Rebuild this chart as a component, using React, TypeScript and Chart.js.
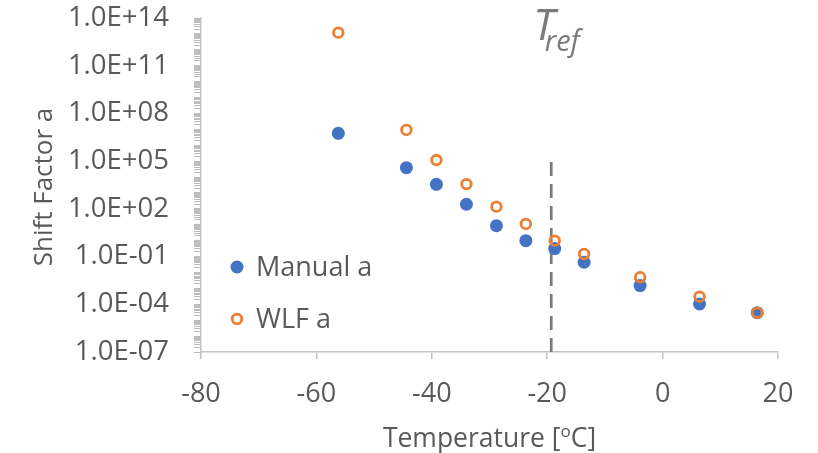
import React, { useEffect, useRef } from "react";
import { Chart, registerables } from "chart.js";

Chart.register(...registerables);

// Measured shift factors against temperature
const temperatures = [-56.2, -44.4, -39.2, -34.0, -28.8, -23.7, -18.7, -13.6, -3.9, 6.4, 16.4];
const manualA = [5.6e6, 3.9e4, 3.5e3, 1.95e2, 8.7, 1.0, 0.32, 0.044, 1.5e-3, 1.05e-4, 2.95e-5];
const wlfA = [1.2e13, 9.1e6, 1.17e5, 3.6e3, 1.38e2, 11.2, 1.0, 0.145, 5.0e-3, 3.0e-4, 2.95e-5];

// Reference temperature marker
const tRef = -19.3;
const tRefSpan = [1e-7, 1e5];

// Axis settings
const xTickStep = 20;
const xRange = [-80, 20];
const yRange = [1e-7, 1e14];
const yLabelExponents = [14, 11, 8, 5, 2, -1, -4, -7];

const BLUE = "#4472C4";
const ORANGE = "#ED7D31";
const TEXT = "#595959";
const AXIS = "#c4c4c4";
const FONT = "'Open Sans', 'Noto Sans', sans-serif";

function formatSci(e: number): string {
  const sign = e < 0 ? "-" : "+";
  return `1.0E${sign}${String(Math.abs(e)).padStart(2, "0")}`;
}

function logTicks(): { value: number }[] {
  const out: { value: number }[] = [];
  for (let e = -7; e < 14; e++) {
    for (let m = 1; m <= 9; m++) out.push({ value: Number(`${m}e${e}`) });
  }
  out.push({ value: 1e14 });
  return out;
}

const extras = {
  id: "extras",
  afterDraw(chart: any) {
    const { ctx, chartArea, scales } = chart;
    const xs = scales.x;
    ctx.save();
    ctx.fillStyle = TEXT;

    // y axis title
    ctx.save();
    ctx.translate(52, (chartArea.top + chartArea.bottom) / 2 + 2);
    ctx.rotate(-Math.PI / 2);
    ctx.font = `26px ${FONT}`;
    ctx.textAlign = "center";
    ctx.textBaseline = "alphabetic";
    ctx.fillText("Shift Factor a", 0, 0);
    ctx.restore();

    // x axis title with superscript degree
    ctx.font = `26.5px ${FONT}`;
    ctx.textBaseline = "alphabetic";
    ctx.textAlign = "left";
    const p1 = "Temperature [";
    const p2 = "o";
    const p3 = "C]";
    const w1 = ctx.measureText(p1).width;
    ctx.font = `17px ${FONT}`;
    const w2 = ctx.measureText(p2).width;
    ctx.font = `26.5px ${FONT}`;
    const w3 = ctx.measureText(p3).width;
    const total = w1 + w2 + w3;
    const cx = (chartArea.left + chartArea.right) / 2;
    let tx = cx - total / 2;
    const base = 447;
    ctx.fillText(p1, tx, base);
    tx += w1;
    ctx.font = `17px ${FONT}`;
    ctx.fillText(p2, tx, base - 10);
    tx += w2;
    ctx.font = `26.5px ${FONT}`;
    ctx.fillText(p3, tx, base);

    // legend inside the plot
    const lx = chartArea.left + 36;
    ctx.font = `27px ${FONT}`;
    ctx.fillStyle = BLUE;
    ctx.beginPath();
    ctx.arc(lx, 267, 6.5, 0, Math.PI * 2);
    ctx.fill();
    ctx.strokeStyle = ORANGE;
    ctx.lineWidth = 2.8;
    ctx.beginPath();
    ctx.arc(lx, 319, 4.8, 0, Math.PI * 2);
    ctx.stroke();
    ctx.fillStyle = TEXT;
    ctx.fillText("Manual a", lx + 19, 276);
    ctx.fillText("WLF a", lx + 19, 328);

    // T_ref label
    const rx = xs.getPixelForValue(tRef);
    ctx.fillStyle = "#7a7a7a";
    ctx.font = `italic 43px ${FONT}`;
    ctx.fillText("T", rx - 18, 40);
    const tw = ctx.measureText("T").width;
    ctx.font = `italic 29px ${FONT}`;
    ctx.fillText("ref", rx - 18 + tw - 10, 51);

    ctx.restore();
  },
};

export default function App() {
  const ref = useRef<HTMLCanvasElement | null>(null);

  useEffect(() => {
    if (!ref.current) return;
    const chart = new Chart(ref.current, {
      type: "scatter",
      data: {
        datasets: [
          {
            label: "WLF a",
            data: temperatures.map((t, i) => ({ x: t, y: wlfA[i] })),
            pointRadius: 4.8,
            pointBorderWidth: 2.8,
            pointBorderColor: ORANGE,
            pointBackgroundColor: "rgba(0,0,0,0)",
            order: 0,
          },
          {
            label: "Manual a",
            data: temperatures.map((t, i) => ({ x: t, y: manualA[i] })),
            pointRadius: 6.5,
            pointBorderWidth: 0,
            pointBackgroundColor: BLUE,
            pointBorderColor: BLUE,
            order: 1,
          },
          {
            type: "line",
            label: "Tref",
            data: tRefSpan.map((v) => ({ x: tRef, y: v })),
            borderColor: "#7a7a7a",
            borderWidth: 2.7,
            borderDash: [14, 8],
            pointRadius: 0,
            showLine: true,
            fill: false,
            order: 2,
          } as any,
        ],
      },
      options: {
        animation: false,
        responsive: false,
        events: [],
        layout: { padding: { top: 18, right: 40, left: 0, bottom: 0 } },
        plugins: { legend: { display: false }, tooltip: { enabled: false } },
        scales: {
          x: {
            type: "linear",
            min: xRange[0],
            max: xRange[1],
            afterFit: (s: any) => {
              s.height = 101;
              s.paddingLeft = 0;
              s.paddingRight = 0;
            },
            ticks: {
              stepSize: xTickStep,
              color: TEXT,
              font: { family: FONT, size: 27 },
              padding: 19,
              maxRotation: 0,
            },
            grid: { drawOnChartArea: false, drawTicks: true, tickLength: 7, color: AXIS, lineWidth: 1.5 },
            border: { color: AXIS, width: 1.5 },
          },
          y: {
            type: "logarithmic",
            min: yRange[0],
            max: yRange[1],
            afterFit: (s: any) => {
              s.width = 201;
              s.paddingTop = 0;
              s.paddingBottom = 0;
            },
            afterBuildTicks: (s: any) => {
              s.ticks = logTicks();
            },
            ticks: {
              autoSkip: false,
              color: TEXT,
              font: { family: FONT, size: 27.5 },
              padding: 25,
              callback: (value: any) => {
                const v = Number(value);
                const e = Math.round(Math.log10(v));
                if (Math.abs(v / Math.pow(10, e) - 1) < 1e-6 && yLabelExponents.includes(e)) {
                  return formatSci(e);
                }
                return "";
              },
            },
            grid: { drawOnChartArea: false, drawTicks: true, tickLength: 7, color: "#bdbdbd", lineWidth: 1 },
            border: { color: AXIS, width: 1.5 },
          },
        },
      },
      plugins: [extras],
    });
    return () => chart.destroy();
  }, []);

  return (
    <div style={{ position: "fixed", left: 0, top: 0, width: 818, height: 453, background: "#fff" }}>
      <canvas ref={ref} width={818} height={453} />
    </div>
  );
}
